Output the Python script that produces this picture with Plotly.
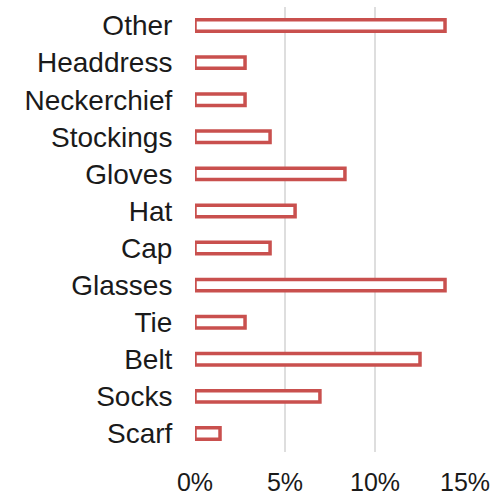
import plotly.graph_objects as go

# Share of items worn, by accessory category (percent)
categories = ["Scarf", "Socks", "Belt", "Tie", "Glasses", "Cap",
              "Hat", "Gloves", "Stockings", "Neckerchief", "Headdress", "Other"]
shares = [1.39, 6.94, 12.5, 2.78, 13.89, 4.17,
          5.56, 8.33, 4.17, 2.78, 2.78, 13.89]
tick_values = [0, 5, 10, 15]
tick_labels = ["0%", "5%", "10%", "15%"]

font_family = "Liberation Sans, Arial, sans-serif"

fig = go.Figure(
    go.Bar(
        x=shares,
        y=categories,
        orientation="h",
        marker=dict(color="white", line=dict(color="#c9504e", width=3.5)),
        hoverinfo="x+y",
    )
)

fig.update_layout(
    width=494,
    height=499,
    margin=dict(l=195, r=29, t=7, b=47),
    paper_bgcolor="white",
    plot_bgcolor="white",
    bargap=0.69,
    showlegend=False,
    font=dict(family=font_family, size=25, color="#1a1a1a"),
)

fig.update_xaxes(
    range=[0, 15],
    tickvals=tick_values,
    ticktext=tick_labels,
    showgrid=True,
    gridcolor="#dedede",
    gridwidth=1.5,
    zeroline=False,
    showline=False,
    ticks="outside",
    ticklen=8,
    tickcolor="rgba(0,0,0,0)",
    tickfont=dict(size=25),
    automargin=False,
)

fig.update_yaxes(
    categoryorder="array",
    categoryarray=categories,
    showgrid=False,
    zeroline=False,
    showline=False,
    ticks="outside",
    ticklen=16,
    tickcolor="rgba(0,0,0,0)",
    tickfont=dict(size=28),
    automargin=False,
)

fig.write_html("out.html")
